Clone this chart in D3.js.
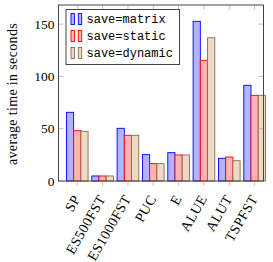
<!DOCTYPE html>
<html>
<head>
<meta charset="utf-8">
<script src="https://cdn.jsdelivr.net/npm/d3@7"></script>
<style>
  body { margin: 0; background: #fff; }
</style>
</head>
<body>
<div id="chart"></div>
<script>
// data
var categories = ["SP", "ES500FST", "ES1000FST", "PUC", "E", "ALUE", "ALUT", "TSPFST"];
var seriesNames = ["save=matrix", "save=static", "save=dynamic"];
var matrixValues = [65.7, 4.8, 50.4, 25.2, 27.1, 152.7, 21.7, 91.5];
var staticValues = [48.1, 4.8, 43.7, 16.6, 24.9, 115.4, 22.9, 81.9];
var dynamicValues = [47.5, 4.8, 43.7, 16.6, 24.9, 137.0, 19.4, 81.9];
var yTicks = [0, 50, 100, 150];

var series = [matrixValues, staticValues, dynamicValues];
var fills = ["#b3b3ff", "#ffb3b3", "#ecd9c6"];
var strokes = ["#0000ff", "#ff0000", "#8f6a48"];

var serif = "'Liberation Serif', 'DejaVu Serif', serif";
var mono = "'Liberation Mono', 'DejaVu Sans Mono', monospace";

var svgWidth = 273, svgHeight = 262;
var plot = { left: 58.5, right: 263.5, top: 5, bottom: 181 };

var svg = d3.select("#chart").append("svg")
  .attr("width", svgWidth)
  .attr("height", svgHeight);

// x is a linear scale over category index, y over seconds
var xScale = d3.scaleLinear()
  .domain([-0.74, 7.35])
  .range([plot.left, plot.right]);
var yScale = d3.scaleLinear()
  .domain([0, 168.3])
  .range([plot.bottom, plot.top]);

var barWidth = xScale(0.285) - xScale(0);

// bars
series.forEach(function (values, s) {
  svg.append("g").selectAll("rect")
    .data(values)
    .enter()
    .append("rect")
    .attr("x", (d, i) => xScale(i) + (s - 1) * barWidth - barWidth / 2)
    .attr("y", d => yScale(d))
    .attr("width", barWidth)
    .attr("height", d => yScale(0) - yScale(d))
    .attr("fill", fills[s])
    .attr("stroke", strokes[s])
    .attr("stroke-width", 0.9);
});

// tick marks, light grey
var tickColor = "#b5b5b5";
var ticks = svg.append("g").attr("stroke", tickColor).attr("stroke-width", 0.8);
categories.forEach(function (c, i) {
  ticks.append("line")
    .attr("x1", xScale(i)).attr("x2", xScale(i))
    .attr("y1", plot.bottom).attr("y2", plot.bottom + 5);
  ticks.append("line")
    .attr("x1", xScale(i)).attr("x2", xScale(i))
    .attr("y1", plot.top).attr("y2", plot.top + 5);
});
yTicks.forEach(function (t) {
  ticks.append("line")
    .attr("x1", plot.left).attr("x2", plot.left + 5)
    .attr("y1", yScale(t)).attr("y2", yScale(t));
  ticks.append("line")
    .attr("x1", plot.right - 5).attr("x2", plot.right)
    .attr("y1", yScale(t)).attr("y2", yScale(t));
});

// frame
svg.append("rect")
  .attr("x", plot.left).attr("y", plot.top)
  .attr("width", plot.right - plot.left)
  .attr("height", plot.bottom - plot.top)
  .attr("fill", "none")
  .attr("stroke", "#444")
  .attr("stroke-width", 1);

// y tick labels
svg.append("g").selectAll("text")
  .data(yTicks)
  .enter()
  .append("text")
  .attr("x", plot.left - 4)
  .attr("y", d => yScale(d) + 4.5)
  .attr("text-anchor", "end")
  .attr("font-family", serif)
  .attr("font-size", "13.5px")
  .text(d => d);

// x tick labels, rotated 60 degrees, anchored at their east end
svg.append("g").selectAll("text")
  .data(categories)
  .enter()
  .append("text")
  .attr("transform", (d, i) => `translate(${xScale(i) - 0.7}, ${plot.bottom + 15}) rotate(-60)`)
  .attr("text-anchor", "end")
  .attr("dy", "0.35em")
  .attr("font-family", serif)
  .attr("font-size", "14px")
  .attr("letter-spacing", "0.5px")
  .text(d => d);

// y axis title
svg.append("text")
  .attr("transform", `translate(16.5, ${(plot.top + plot.bottom) / 2 + 1}) rotate(-90)`)
  .attr("text-anchor", "middle")
  .attr("font-family", serif)
  .attr("font-size", "14px")
  .attr("letter-spacing", "0.35px")
  .text("average time in seconds");

// legend
var legend = svg.append("g");
legend.append("rect")
  .attr("x", 66).attr("y", 9.5)
  .attr("width", 113.5).attr("height", 55)
  .attr("fill", "#fff")
  .attr("stroke", "#444")
  .attr("stroke-width", 1);

seriesNames.forEach(function (name, s) {
  var cy = 19 + s * 17;
  [71, 78.3].forEach(function (x) {
    legend.append("rect")
      .attr("x", x).attr("y", cy - 5.5)
      .attr("width", 3.4).attr("height", 11)
      .attr("fill", fills[s])
      .attr("stroke", strokes[s])
      .attr("stroke-width", 0.9);
  });
  legend.append("text")
    .attr("x", 86.5)
    .attr("y", cy + 4)
    .attr("font-family", mono)
    .attr("font-size", "12px")
    .text(name);
});
</script>
</body>
</html>
